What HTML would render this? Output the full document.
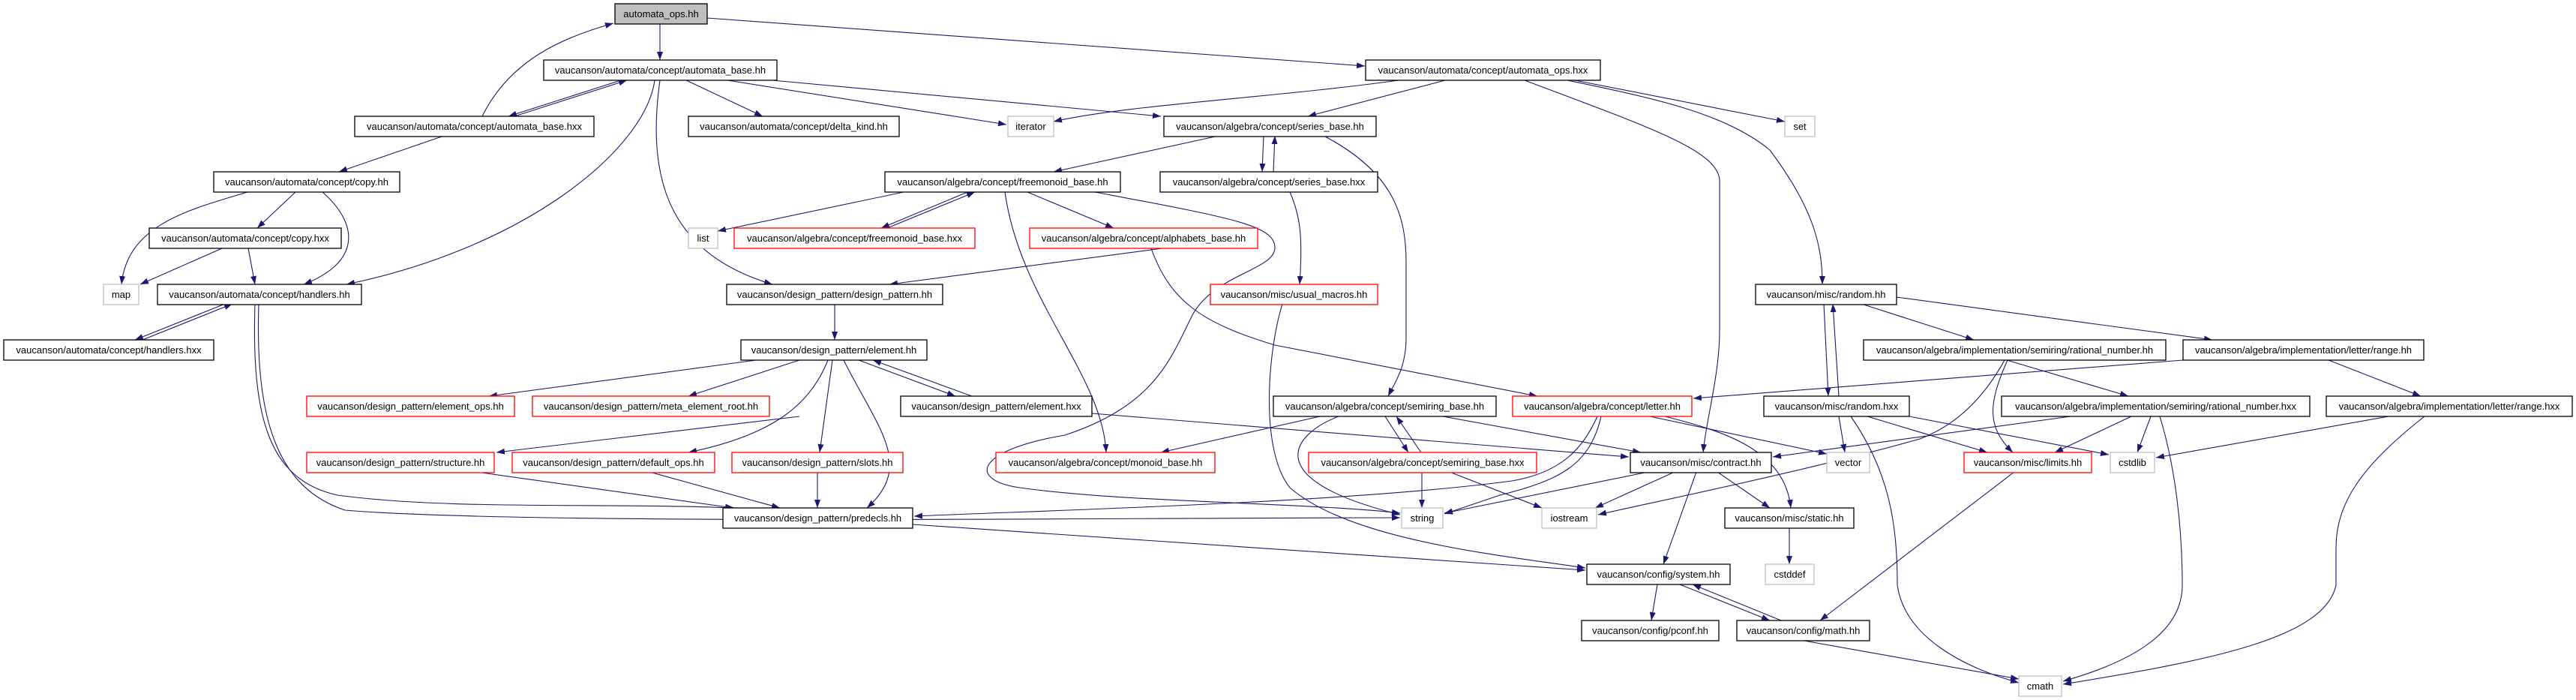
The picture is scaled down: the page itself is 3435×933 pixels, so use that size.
<!DOCTYPE html>
<html><head><meta charset="utf-8"><style>
html,body{margin:0;padding:0;background:#fff;}
svg{display:block}
text{font-family:"Liberation Sans",sans-serif;font-size:13px;fill:#000;}
.n{fill:#fff;stroke:#000;stroke-width:1.3}
.r{fill:#fff;stroke:#f00;stroke-width:1.3}
.g{fill:#fff;stroke:#bfbfbf;stroke-width:1.3}
.e{fill:none;stroke:#191970;stroke-width:1.1;marker-end:url(#a)}
</style></head><body>
<svg width="3435" height="933" viewBox="0 0 3435 933" xmlns="http://www.w3.org/2000/svg">
<defs><marker id="a" markerUnits="userSpaceOnUse" markerWidth="12" markerHeight="10" refX="11" refY="4" orient="auto"><path d="M0,0 L11,4 L0,8 z" fill="#191970"/></marker></defs>
<g>
<path class="e" d="M880,32 L880,80"/>
<path class="e" d="M943,24 L1820,88"/>
<path class="e" d="M828,107 L678,155"/>
<path class="e" d="M686,155 L836,107"/>
<path class="e" d="M643,155 C680,80 750,50 818,31"/>
<path class="e" d="M915,107 L1017,155"/>
<path class="e" d="M970,107 L1342,166"/>
<path class="e" d="M1030,107 L1548,155"/>
<path class="e" d="M873,107 C860,200 700,330 462,379"/>
<path class="e" d="M880,107 C860,250 900,340 1030,379"/>
<path class="e" d="M592,181 L452,229"/>
<path class="e" d="M330,256 C250,280 170,300 162,379"/>
<path class="e" d="M394,256 L343,304"/>
<path class="e" d="M430,256 C480,300 480,350 405,379"/>
<path class="e" d="M296,331 L187,379"/>
<path class="e" d="M331,331 L340,379"/>
<path class="e" d="M300,405 L180,453"/>
<path class="e" d="M190,453 L310,405"/>
<path class="e" d="M340,405 C335,560 360,640 450,660 C600,680 800,670 980,677"/>
<path class="e" d="M345,405 C340,560 370,650 460,680 C700,700 1500,690 1867,690"/>
<path class="e" d="M1625,181 L1405,229"/>
<path class="e" d="M1685,181 L1683,229"/>
<path class="e" d="M1698,229 L1700,181"/>
<path class="e" d="M1765,181 C1860,230 1875,290 1875,350 L1875,450 C1875,490 1860,510 1851,528"/>
<path class="e" d="M1720,256 C1735,290 1737,320 1733,379"/>
<path class="e" d="M1205,256 L957,308"/>
<path class="e" d="M1290,256 L1175,304"/>
<path class="e" d="M1183,304 L1300,256"/>
<path class="e" d="M1370,256 L1485,304"/>
<path class="e" d="M1340,256 C1360,400 1470,500 1475,603"/>
<path class="e" d="M1460,256 C1640,290 1700,300 1700,330 C1700,360 1620,365 1590,420 C1560,480 1540,540 1420,580 C1300,600 1290,640 1360,650 C1500,670 1750,670 1867,684"/>
<path class="e" d="M1550,331 L1186,379"/>
<path class="e" d="M1535,331 C1560,400 1600,430 1700,460 L2050,528"/>
<path class="e" d="M1710,405 C1690,470 1680,600 1720,650 C1800,720 2000,740 2114,757"/>
<path class="e" d="M1113,405 L1113,453"/>
<path class="e" d="M1008,480 L652,528"/>
<path class="e" d="M1066,480 L918,528"/>
<path class="e" d="M1104,480 C1080,540 1030,580 918,603"/>
<path class="e" d="M1110,480 L1093,603"/>
<path class="e" d="M1125,480 C1170,570 1220,620 1156,677"/>
<path class="e" d="M1145,480 L1274,528"/>
<path class="e" d="M1296,528 L1164,480"/>
<path class="e" d="M1456,551 L2172,609"/>
<path class="e" d="M1066,555 L662,603"/>
<path class="e" d="M635,629 L978,677"/>
<path class="e" d="M866,629 L1040,677"/>
<path class="e" d="M1090,629 L1090,677"/>
<path class="e" d="M1217,699 L2114,760"/>
<path class="e" d="M1785,555 C1720,580 1680,640 1867,686"/>
<path class="e" d="M1847,555 L1878,603"/>
<path class="e" d="M1895,603 L1862,555"/>
<path class="e" d="M1924,555 L2188,603"/>
<path class="e" d="M1760,555 L1548,603"/>
<path class="e" d="M2130,555 C2110,600 2080,630 2016,641 C1800,670 1400,680 1219,688"/>
<path class="e" d="M2135,555 C2120,620 2080,640 2000,660 L1926,685"/>
<path class="e" d="M2200,555 L2436,605"/>
<path class="e" d="M2220,555 C2300,575 2380,600 2388,677"/>
<path class="e" d="M1896,629 L1896,677"/>
<path class="e" d="M1933,629 L2056,677"/>
<path class="e" d="M2198,629 L1926,684"/>
<path class="e" d="M2233,629 L2127,677"/>
<path class="e" d="M2290,629 L2360,677"/>
<path class="e" d="M2262,629 L2218,752"/>
<path class="e" d="M2033,107 C2200,170 2290,200 2293,240 L2293,440 C2293,500 2275,560 2271,603"/>
<path class="e" d="M1927,107 L1744,155"/>
<path class="e" d="M1865,107 C1700,130 1500,140 1405,162"/>
<path class="e" d="M2100,107 L2380,162"/>
<path class="e" d="M2090,107 C2200,130 2300,150 2360,200 C2420,280 2430,330 2430,379"/>
<path class="e" d="M2432,405 L2438,528"/>
<path class="e" d="M2452,528 L2444,405"/>
<path class="e" d="M2482,405 L2632,453"/>
<path class="e" d="M2529,396 L2950,453"/>
<path class="e" d="M2911,480 L2258,531"/>
<path class="e" d="M2676,480 L2838,528"/>
<path class="e" d="M2677,480 C2650,540 2650,570 2684,603"/>
<path class="e" d="M2673,480 C2640,540 2600,570 2560,585 C2400,630 2200,670 2131,686"/>
<path class="e" d="M2452,555 L2460,603"/>
<path class="e" d="M2490,555 L2650,603"/>
<path class="e" d="M2468,555 C2520,630 2530,700 2530,780 C2540,850 2620,890 2692,910"/>
<path class="e" d="M2761,555 L2364,609"/>
<path class="e" d="M2546,555 L2812,606"/>
<path class="e" d="M2842,555 L2740,603"/>
<path class="e" d="M2868,555 L2850,603"/>
<path class="e" d="M2880,555 C2900,620 2910,700 2910,780 C2910,840 2850,880 2751,908"/>
<path class="e" d="M3105,480 L3228,528"/>
<path class="e" d="M3185,555 L2875,610"/>
<path class="e" d="M3233,555 C3150,620 3115,670 3115,730 L3115,780 C3100,850 2950,880 2751,912"/>
<path class="e" d="M2686,629 L2427,827"/>
<path class="e" d="M2400,853 L2692,905"/>
<path class="e" d="M2210,779 L2202,827"/>
<path class="e" d="M2240,779 L2360,827"/>
<path class="e" d="M2375,827 L2257,779"/>
<path class="e" d="M2386,704 L2386,752"/>
</g>
<g>
<rect x="820" y="5" width="123" height="27" style="fill:#bfbfbf;stroke:#000;stroke-width:1.3"/>
<text x="881.5" y="23" text-anchor="middle">automata_ops.hh</text>
<rect class="n" x="725" y="80" width="311" height="27"/><text x="880.5" y="98" text-anchor="middle">vaucanson/automata/concept/automata_base.hh</text>
<rect class="n" x="1821" y="80" width="313" height="27"/><text x="1977.5" y="98" text-anchor="middle">vaucanson/automata/concept/automata_ops.hxx</text>
<rect class="n" x="473" y="155" width="319" height="27"/><text x="632.5" y="173" text-anchor="middle">vaucanson/automata/concept/automata_base.hxx</text>
<rect class="n" x="918" y="155" width="281" height="27"/><text x="1058.5" y="173" text-anchor="middle">vaucanson/automata/concept/delta_kind.hh</text>
<rect class="g" x="1344" y="155" width="61" height="27"/><text x="1374.5" y="173" text-anchor="middle">iterator</text>
<rect class="n" x="1552" y="155" width="283" height="27"/><text x="1693.5" y="173" text-anchor="middle">vaucanson/algebra/concept/series_base.hh</text>
<rect class="g" x="2380" y="155" width="40" height="27"/><text x="2400" y="173" text-anchor="middle">set</text>
<rect class="n" x="285" y="229" width="248" height="27"/><text x="409" y="247" text-anchor="middle">vaucanson/automata/concept/copy.hh</text>
<rect class="n" x="1180" y="229" width="314" height="27"/><text x="1337" y="247" text-anchor="middle">vaucanson/algebra/concept/freemonoid_base.hh</text>
<rect class="n" x="1547" y="229" width="290" height="27"/><text x="1692" y="247" text-anchor="middle">vaucanson/algebra/concept/series_base.hxx</text>
<rect class="n" x="199" y="304" width="256" height="27"/><text x="327" y="322" text-anchor="middle">vaucanson/automata/concept/copy.hxx</text>
<rect class="g" x="918" y="304" width="39" height="27"/><text x="937.5" y="322" text-anchor="middle">list</text>
<rect class="r" x="979" y="304" width="321" height="27"/><text x="1139.5" y="322" text-anchor="middle">vaucanson/algebra/concept/freemonoid_base.hxx</text>
<rect class="r" x="1373" y="304" width="304" height="27"/><text x="1525" y="322" text-anchor="middle">vaucanson/algebra/concept/alphabets_base.hh</text>
<rect class="g" x="138" y="379" width="47" height="27"/><text x="161.5" y="397" text-anchor="middle">map</text>
<rect class="n" x="210" y="379" width="272" height="27"/><text x="346" y="397" text-anchor="middle">vaucanson/automata/concept/handlers.hh</text>
<rect class="n" x="969" y="379" width="288" height="27"/><text x="1113" y="397" text-anchor="middle">vaucanson/design_pattern/design_pattern.hh</text>
<rect class="r" x="1614" y="379" width="223" height="27"/><text x="1725.5" y="397" text-anchor="middle">vaucanson/misc/usual_macros.hh</text>
<rect class="n" x="2341" y="379" width="188" height="27"/><text x="2435" y="397" text-anchor="middle">vaucanson/misc/random.hh</text>
<rect class="n" x="5" y="453" width="280" height="27"/><text x="145" y="471" text-anchor="middle">vaucanson/automata/concept/handlers.hxx</text>
<rect class="n" x="988" y="453" width="248" height="27"/><text x="1112" y="471" text-anchor="middle">vaucanson/design_pattern/element.hh</text>
<rect class="n" x="2485" y="453" width="403" height="27"/><text x="2686.5" y="471" text-anchor="middle">vaucanson/algebra/implementation/semiring/rational_number.hh</text>
<rect class="n" x="2911" y="453" width="321" height="27"/><text x="3071.5" y="471" text-anchor="middle">vaucanson/algebra/implementation/letter/range.hh</text>
<rect class="r" x="409" y="528" width="277" height="27"/><text x="547.5" y="546" text-anchor="middle">vaucanson/design_pattern/element_ops.hh</text>
<rect class="r" x="710" y="528" width="316" height="27"/><text x="868" y="546" text-anchor="middle">vaucanson/design_pattern/meta_element_root.hh</text>
<rect class="n" x="1201" y="528" width="255" height="27"/><text x="1328.5" y="546" text-anchor="middle">vaucanson/design_pattern/element.hxx</text>
<rect class="n" x="1698" y="528" width="297" height="27"/><text x="1846.5" y="546" text-anchor="middle">vaucanson/algebra/concept/semiring_base.hh</text>
<rect class="r" x="2017" y="528" width="239" height="27"/><text x="2136.5" y="546" text-anchor="middle">vaucanson/algebra/concept/letter.hh</text>
<rect class="n" x="2352" y="528" width="194" height="27"/><text x="2449" y="546" text-anchor="middle">vaucanson/misc/random.hxx</text>
<rect class="n" x="2669" y="528" width="411" height="27"/><text x="2874.5" y="546" text-anchor="middle">vaucanson/algebra/implementation/semiring/rational_number.hxx</text>
<rect class="n" x="3102" y="528" width="328" height="27"/><text x="3266" y="546" text-anchor="middle">vaucanson/algebra/implementation/letter/range.hxx</text>
<rect class="r" x="409" y="603" width="250" height="27"/><text x="534" y="621" text-anchor="middle">vaucanson/design_pattern/structure.hh</text>
<rect class="r" x="683" y="603" width="270" height="27"/><text x="818" y="621" text-anchor="middle">vaucanson/design_pattern/default_ops.hh</text>
<rect class="r" x="976" y="603" width="228" height="27"/><text x="1090" y="621" text-anchor="middle">vaucanson/design_pattern/slots.hh</text>
<rect class="r" x="1328" y="603" width="292" height="27"/><text x="1474" y="621" text-anchor="middle">vaucanson/algebra/concept/monoid_base.hh</text>
<rect class="r" x="1745" y="603" width="304" height="27"/><text x="1897" y="621" text-anchor="middle">vaucanson/algebra/concept/semiring_base.hxx</text>
<rect class="n" x="2174" y="603" width="188" height="27"/><text x="2268" y="621" text-anchor="middle">vaucanson/misc/contract.hh</text>
<rect class="g" x="2436" y="603" width="57" height="27"/><text x="2464.5" y="621" text-anchor="middle">vector</text>
<rect class="r" x="2619" y="603" width="170" height="27"/><text x="2704" y="621" text-anchor="middle">vaucanson/misc/limits.hh</text>
<rect class="g" x="2814" y="603" width="59" height="27"/><text x="2843.5" y="621" text-anchor="middle">cstdlib</text>
<rect class="n" x="964" y="677" width="253" height="27"/><text x="1090.5" y="695" text-anchor="middle">vaucanson/design_pattern/predecls.hh</text>
<rect class="g" x="1869" y="677" width="55" height="27"/><text x="1896.5" y="695" text-anchor="middle">string</text>
<rect class="g" x="2056" y="677" width="73" height="27"/><text x="2092.5" y="695" text-anchor="middle">iostream</text>
<rect class="n" x="2300" y="677" width="172" height="27"/><text x="2386" y="695" text-anchor="middle">vaucanson/misc/static.hh</text>
<rect class="n" x="2116" y="752" width="191" height="27"/><text x="2211.5" y="770" text-anchor="middle">vaucanson/config/system.hh</text>
<rect class="g" x="2354" y="752" width="65" height="27"/><text x="2386.5" y="770" text-anchor="middle">cstddef</text>
<rect class="n" x="2109" y="827" width="183" height="27"/><text x="2200.5" y="845" text-anchor="middle">vaucanson/config/pconf.hh</text>
<rect class="n" x="2316" y="827" width="177" height="27"/><text x="2404.5" y="845" text-anchor="middle">vaucanson/config/math.hh</text>
<rect class="g" x="2692" y="901" width="57" height="27"/><text x="2720.5" y="919" text-anchor="middle">cmath</text>
</g>
</svg>
</body></html>
